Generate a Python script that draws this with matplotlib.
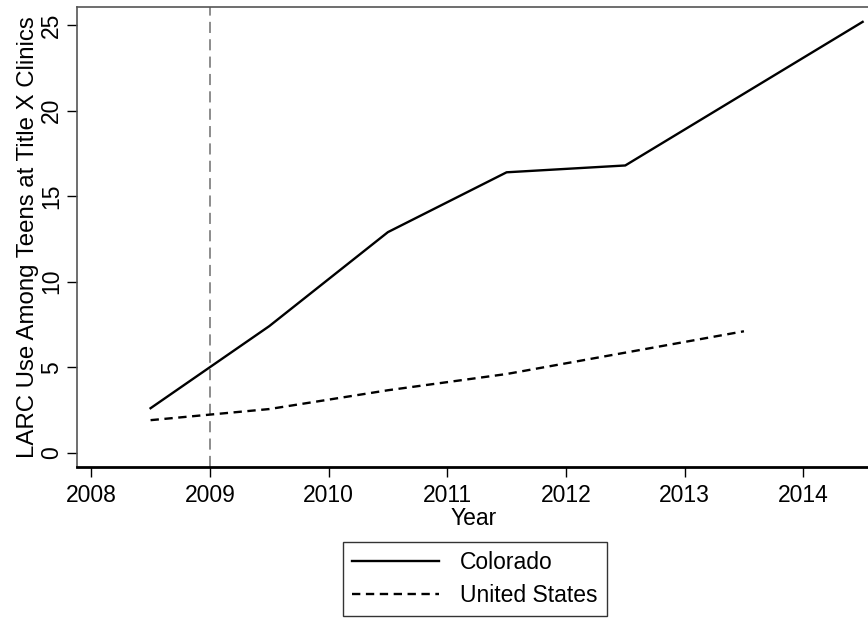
import matplotlib
matplotlib.use("Agg")
import matplotlib.pyplot as plt

plt.rcParams['font.family'] = ['Liberation Sans', 'DejaVu Sans']
plt.rcParams['lines.scale_dashes'] = False

# values
years_co = [2008.5, 2009.5, 2010.5, 2011.5, 2012.5, 2013.5, 2014.5]
colorado = [2.6, 7.4, 12.9, 16.4, 16.8, 21.0, 25.2]
years_us = [2008.5, 2009.5, 2010.5, 2011.5, 2012.5, 2013.5]
united_states = [1.9, 2.55, 3.65, 4.6, 5.85, 7.1]
policy_year = 2009
xticks = [2008, 2009, 2010, 2011, 2012, 2013, 2014]
yticks = [0, 5, 10, 15, 20, 25]

fs = 16.5

fig = plt.figure(figsize=(8.68, 6.18), dpi=100)
ax = fig.add_axes([77/868, 1 - 467/618, 1 - 77/868 + 0.002, (467 - 7)/618])

ax.axvline(policy_year, color='#8c8c8c', lw=1.4, dashes=(8, 4.5))
ax.plot(years_co, colorado, color='black', lw=1.7, label='Colorado')
ax.plot(years_us, united_states, color='black', lw=1.7, dashes=(6, 4),
        label='United States')

ax.set_xlim(2007.88, 2014.56)
ax.set_ylim(-0.84, 26.07)
ax.set_xticks(xticks)
ax.set_yticks(yticks)
ax.tick_params(axis='both', direction='out', length=7, width=1, labelsize=fs)
ax.tick_params(axis='x', pad=5)
ax.tick_params(axis='y', pad=3)
for lab in ax.get_yticklabels():
    lab.set_rotation(90)
    lab.set_va('center')

ax.spines['right'].set_visible(False)
ax.spines['top'].set_color('#555555')
ax.spines['top'].set_linewidth(1.2)
ax.spines['left'].set_color('#555555')
ax.spines['left'].set_linewidth(1.2)
ax.spines['bottom'].set_color('black')
ax.spines['bottom'].set_linewidth(2)

ax.set_xlabel('Year', fontsize=fs, labelpad=0)
ax.set_ylabel('LARC Use Among Teens at Title X Clinics', fontsize=17.3, labelpad=1)

leg = fig.legend(loc='center', bbox_to_anchor=(475/868, 1 - 579/618),
                 fontsize=fs, frameon=True, fancybox=False, edgecolor='black',
                 handlelength=3.8, handletextpad=0.9, labelspacing=0.45,
                 borderpad=0.4, borderaxespad=0)
leg.get_frame().set_linewidth(1.0)

fig.savefig('out.png', dpi=100)
